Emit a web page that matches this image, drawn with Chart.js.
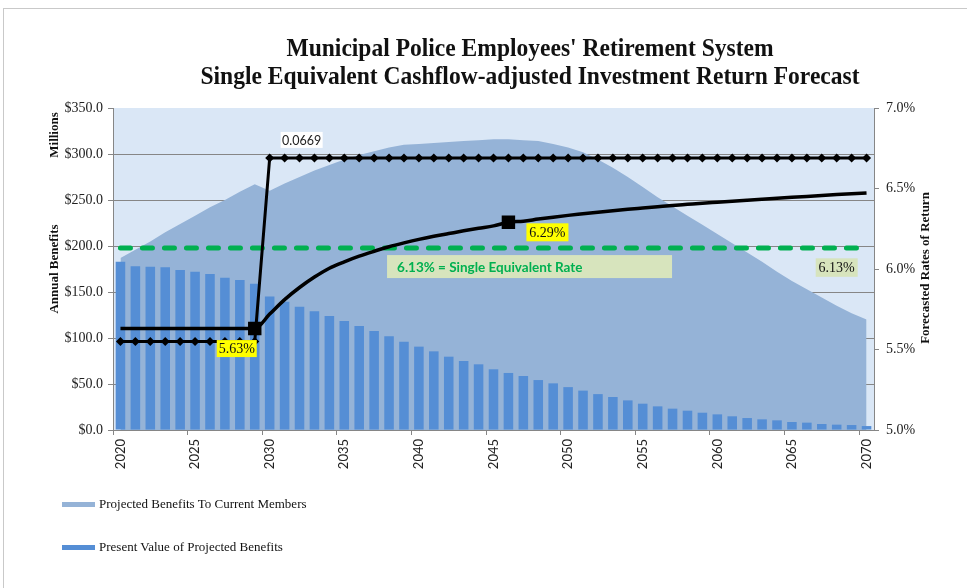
<!DOCTYPE html>
<html>
<head>
<meta charset="utf-8">
<title>MPERS Single Equivalent Return Forecast</title>
<script src="https://cdn.jsdelivr.net/npm/chart.js@4.4.1/dist/chart.umd.min.js"></script>
<style>
  html, body { margin: 0; padding: 0; background: #fff; }
  #wrap { position: relative; width: 967px; height: 588px; overflow: hidden; }
  #frame { position: absolute; left: 3px; top: 8px; width: 2000px; height: 2000px;
           border-left: 1px solid #c9c9c9; border-top: 1px solid #c9c9c9; }
  #chart { position: absolute; left: 0; top: 0; }
  .legend-item { position: absolute; left: 62px; font: 13px 'Liberation Serif', serif; color: #111; white-space: nowrap; }
  .legend-item .sw { display: inline-block; width: 33px; height: 5px; vertical-align: middle; margin-right: 4px; position: relative; top: -1px; }
</style>
</head>
<body>
<div id="wrap">
  <div id="frame"></div>
  <canvas id="chart" width="967" height="588"></canvas>
  <div class="legend-item" style="top:496px"><span class="sw" style="background:#95B3D7"></span>Projected Benefits To Current Members</div>
  <div class="legend-item" style="top:539px"><span class="sw" style="background:#558ED5"></span>Present Value of Projected Benefits</div>
</div>
<script>
// ===== MPERS - cashflow-adjusted return forecast =====

const years = [
  '2020', '2021', '2022', '2023', '2024', '2025', '2026', '2027', '2028', '2029',
  '2030', '2031', '2032', '2033', '2034', '2035', '2036', '2037', '2038', '2039',
  '2040', '2041', '2042', '2043', '2044', '2045', '2046', '2047', '2048', '2049',
  '2050', '2051', '2052', '2053', '2054', '2055', '2056', '2057', '2058', '2059',
  '2060', '2061', '2062', '2063', '2064', '2065', '2066', '2067', '2068', '2069',
  '2070'
];

// $ millions
const projectedBenefits = [
  187, 196, 205, 215, 224, 233, 242, 250, 259, 267,
  260, 268, 275, 282, 288, 294, 299, 303, 307, 310,
  311, 312, 313, 314, 315, 316, 316, 315, 314, 311,
  307, 302, 294, 285, 275, 264, 253, 243, 233, 223,
  213, 203, 193, 183, 172, 162, 153, 144, 135, 127,
  120
];

const presentValue = [
  183, 178, 177.5, 177, 174, 172, 169.6, 165.6, 163, 159,
  145, 139.5, 134, 129, 124, 118.5, 113, 107.6, 102, 96,
  90.6, 85.5, 79.7, 75, 71.4, 66, 62, 58.7, 54.3, 50.7,
  46.6, 42.8, 39, 35.9, 32.2, 28.6, 25.7, 23.2, 21, 18.8,
  17, 14.9, 13, 11.6, 10.5, 8.7, 8, 6.5, 5.8, 5.4,
  4.3
];

// percent
const forecastRates = [
  5.55, 5.55, 5.55, 5.55, 5.55, 5.55, 5.55, 5.55, 5.55, 5.55,
  6.69, 6.69, 6.69, 6.69, 6.69, 6.69, 6.69, 6.69, 6.69, 6.69,
  6.69, 6.69, 6.69, 6.69, 6.69, 6.69, 6.69, 6.69, 6.69, 6.69,
  6.69, 6.69, 6.69, 6.69, 6.69, 6.69, 6.69, 6.69, 6.69, 6.69,
  6.69, 6.69, 6.69, 6.69, 6.69, 6.69, 6.69, 6.69, 6.69, 6.69,
  6.69
];

const cashflowAdjustedRates = [
  5.63, 5.63, 5.63, 5.63, 5.63, 5.63, 5.63, 5.63, 5.63, 5.63,
  5.72, 5.81, 5.885, 5.95, 6.005, 6.045, 6.08, 6.11, 6.138, 6.162,
  6.184, 6.203, 6.22, 6.237, 6.253, 6.268, 6.29, 6.297, 6.31, 6.322,
  6.333, 6.343, 6.353, 6.362, 6.371, 6.379, 6.387, 6.395, 6.402, 6.409,
  6.415, 6.421, 6.427, 6.433, 6.439, 6.445, 6.451, 6.456, 6.462, 6.467,
  6.472
];

const singleEquivalentRate = 6.13;
const markedYears = ['2029', '2046'];

const titleLines = [
  "Municipal Police Employees' Retirement System",
  'Single Equivalent Cashflow-adjusted Investment Return Forecast'
];

const SERIF = "'Liberation Serif', 'Times New Roman', serif";
const SANS = "Lato, 'Liberation Sans', sans-serif";
const AXIS_GRAY = '#868686';

// plot background + title + axis titles
const decorations = {
  id: 'decorations',
  beforeDraw(chart) {
    const { ctx, chartArea: a } = chart;
    ctx.save();
    ctx.fillStyle = '#DAE7F6';
    ctx.fillRect(a.left, a.top, a.right - a.left, a.bottom - a.top);
    ctx.restore();
  },
  afterDraw(chart) {
    const { ctx } = chart;
    ctx.save();
    ctx.fillStyle = '#111';
    ctx.textAlign = 'center';
    ctx.textBaseline = 'alphabetic';

    // condensed bold serif title, like the original
    ctx.save();
    ctx.translate(530, 0);
    ctx.scale(0.905, 1);
    ctx.font = 'bold 26px ' + SERIF;
    ctx.fillText(titleLines[0], 0, 56);
    ctx.fillText(titleLines[1], 0, 84);
    ctx.restore();

    const vText = (text, x, y) => {
      ctx.save();
      ctx.translate(x, y);
      ctx.rotate(-Math.PI / 2);
      ctx.textBaseline = 'middle';
      ctx.fillText(text, 0, 0);
      ctx.restore();
    };
    ctx.font = 'bold 13px ' + SERIF;
    vText('Millions', 55, 135);
    vText('Annual Benefits', 55, 269);
    vText('Forecasted Rates of Return', 926, 268);
    ctx.restore();
  }
};

// the boxed value labels
const callouts = {
  id: 'callouts',
  afterDatasetsDraw(chart) {
    const { ctx, scales: { x, y2 } } = chart;
    const px = (year) => x.getPixelForValue(years.indexOf(year));

    const box = (text, cx, cy, w, h, fill, font, color, align) => {
      ctx.save();
      ctx.fillStyle = fill;
      ctx.fillRect(cx - w / 2, cy - h / 2, w, h);
      ctx.fillStyle = color;
      ctx.font = font;
      ctx.textBaseline = 'middle';
      if (align === 'left') {
        ctx.textAlign = 'left';
        ctx.fillText(text, cx - w / 2 + 10, cy + 1);
      } else {
        ctx.textAlign = 'center';
        ctx.fillText(text, cx, cy + 1);
      }
      ctx.restore();
    };

    const lineY = y2.getPixelForValue(singleEquivalentRate);

    box('0.0669', px('2030') + 32, y2.getPixelForValue(forecastRates[10]) - 18,
      42, 16, '#ffffff', '12.5px ' + SANS, '#222');
    box('5.63%', px('2029') - 18, y2.getPixelForValue(cashflowAdjustedRates[9]) + 20,
      40, 17, '#FFFF00', '14px ' + SERIF, '#111');
    box('6.29%', px('2046') + 39, y2.getPixelForValue(cashflowAdjustedRates[26]) + 10,
      42, 18, '#FFFF00', '14px ' + SERIF, '#111');
    box('6.13% = Single Equivalent Rate', px('2038') - 2 + 142.5, lineY + 18.5,
      285, 23, '#D7E4BD', 'bold 13.5px ' + SANS, '#00B050', 'left');
    box('6.13%', px('2068'), lineY + 19.5,
      42, 18.5, '#D7E4BD', '14px ' + SERIF, '#111');
  }
};

const ctx = document.getElementById('chart').getContext('2d');

new Chart(ctx, {
  type: 'bar',
  data: {
    labels: years,
    datasets: [
      {
        type: 'line',
        label: 'Cashflow-adjusted Rate',
        data: cashflowAdjustedRates,
        yAxisID: 'y2',
        borderColor: '#000',
        borderWidth: 3.5,
        cubicInterpolationMode: 'monotone',
        pointStyle: 'rect',
        pointRadius: years.map(y => markedYears.includes(y) ? 9.5 : 0),
        pointBackgroundColor: '#000',
        pointBorderWidth: 0,
        order: 1
      },
      {
        type: 'line',
        label: 'Forecast Rates of Return',
        data: forecastRates,
        yAxisID: 'y2',
        borderColor: '#000',
        borderWidth: 3,
        tension: 0,
        pointStyle: 'rectRot',
        pointRadius: 4.5,
        pointBackgroundColor: '#000',
        pointBorderColor: '#000',
        pointBorderWidth: 0,
        order: 2
      },
      {
        type: 'line',
        label: 'Single Equivalent Rate',
        data: years.map(() => singleEquivalentRate),
        yAxisID: 'y2',
        borderColor: '#00B050',
        borderWidth: 5,
        borderDash: [10, 12],
        borderCapStyle: 'round',
        pointRadius: 0,
        order: 3
      },
      {
        label: 'Present Value of Projected Benefits',
        data: presentValue,
        yAxisID: 'y',
        backgroundColor: '#558ED5',
        barPercentage: 0.64,
        categoryPercentage: 1,
        order: 4
      },
      {
        type: 'line',
        label: 'Projected Benefits To Current Members',
        data: projectedBenefits,
        yAxisID: 'y',
        backgroundColor: '#95B3D7',
        borderWidth: 0,
        borderColor: 'rgba(0,0,0,0)',
        fill: 'origin',
        tension: 0,
        pointRadius: 0,
        order: 5
      }
    ]
  },
  options: {
    responsive: false,
    animation: false,
    layout: { padding: { top: 108, left: 0, right: 0, bottom: 0 } },
    plugins: {
      legend: { display: false },
      title: { display: false },
      tooltip: { enabled: false }
    },
    scales: {
      x: {
        offset: true,
        afterFit: (s) => { s.height = 158; },
        border: { color: AXIS_GRAY, width: 1 },
        grid: {
          offset: true,
          drawOnChartArea: false,
          tickLength: 5,
          tickColor: (c) => (c.index % 5 === 0 ? AXIS_GRAY : 'rgba(0,0,0,0)')
        },
        ticks: {
          autoSkip: false,
          minRotation: 90,
          maxRotation: 90,
          padding: 4,
          color: '#222',
          font: { family: SANS, size: 13 },
          callback: (v, i) => (i % 5 === 0 ? years[i] : '')
        }
      },
      y: {
        position: 'left',
        min: 0,
        max: 350,
        afterFit: (s) => { s.width = 113; },
        border: { color: AXIS_GRAY, width: 1 },
        grid: {
          color: (c) => (c.tick && c.tick.value === 350 ? 'rgba(0,0,0,0)' : AXIS_GRAY),
          tickColor: AXIS_GRAY,
          tickLength: 5,
          lineWidth: 1
        },
        ticks: {
          stepSize: 50,
          padding: 5,
          color: '#222',
          font: { family: SERIF, size: 14 },
          callback: (v) => '$' + v.toFixed(1)
        }
      },
      y2: {
        position: 'right',
        min: 5,
        max: 7,
        afterFit: (s) => { s.width = 93; },
        border: { color: AXIS_GRAY, width: 1 },
        grid: {
          drawOnChartArea: false,
          tickColor: AXIS_GRAY,
          tickLength: 5
        },
        ticks: {
          stepSize: 0.5,
          padding: 7,
          color: '#222',
          font: { family: SERIF, size: 14 },
          callback: (v) => v.toFixed(1) + '%'
        }
      }
    }
  },
  plugins: [decorations, callouts]
});
</script>
</body>
</html>
